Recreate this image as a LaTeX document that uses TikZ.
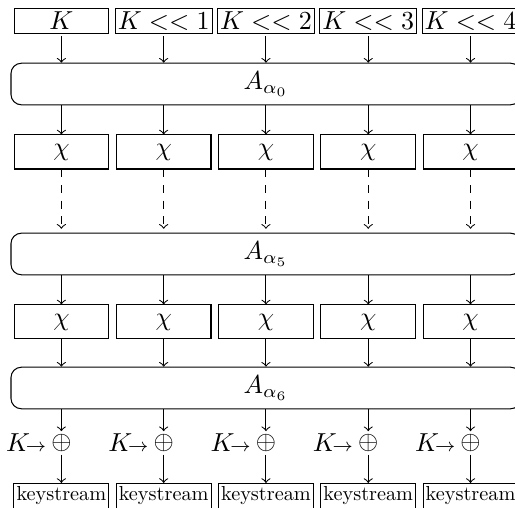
\documentclass[tikz,border=0pt]{standalone}
\usetikzlibrary{positioning}

\tikzset{
    keybox/.style={draw, minimum width=1.28cm, minimum height=9.5pt, inner sep=1pt},
    chibox/.style={draw, minimum width=1.28cm, minimum height=0.46cm},
    roundbox/.style={draw, rounded corners, minimum width=6.895cm, minimum height=0.46cm},
    ksbox/.style={draw, minimum width=1.28cm, minimum height=9.5pt, inner sep=1pt},
}

\begin{document}
\begin{tikzpicture}[>=to]
    \def\colsep{1.383}
    \def\xA{0.83}

    \useasboundingbox (0,0) rectangle (6.963,-6.868);

    % the three rounds
    \node[roundbox] (A0) at (3.596,-1.136) {$A_{\alpha_0}$};
    \node[roundbox] (A5) at (3.596,-3.434) {$A_{\alpha_5}$};
    \node[roundbox] (A6) at (3.596,-5.246) {$A_{\alpha_6}$};

    \foreach \i/\t in {1/K, 2/{K << 1}, 3/{K << 2}, 4/{K << 3}, 5/{K << 4}} {
        \node[keybox, anchor=north] (k\i) at ({\xA+(\i-1)*\colsep},-0.108) {$\t$};
        \node[chibox] (c\i) at ({\xA+(\i-1)*\colsep},-2.055) {$\chi$};
        \node[chibox] (d\i) at ({\xA+(\i-1)*\colsep},-4.353) {$\chi$};
        \node[inner sep=1pt] (x\i) at ({\xA+(\i-1)*\colsep},-5.989) {$\oplus$};
        \node[left=0.5pt of x\i, inner sep=0pt] (kx\i) {$K\!{\scriptstyle\rightarrow}$};
        \node[ksbox, anchor=north] (s\i) at ({\xA+(\i-1)*\colsep},-6.53) {\scalebox{0.78}{keystream}};

        \draw[->, shorten <=1pt] (k\i) -- (k\i |- A0.north);
        \draw[->] (c\i |- A0.south) -- (c\i);
        \draw[->, dashed, shorten >=1.5pt] (c\i) -- (c\i |- A5.north);
        \draw[->] (d\i |- A5.south) -- (d\i);
        \draw[->] (d\i) -- (d\i |- A6.north);
        \draw[->] (x\i |- A6.south) -- (x\i);
        \draw[->] (x\i) -- (s\i);
    }
\end{tikzpicture}
\end{document}
